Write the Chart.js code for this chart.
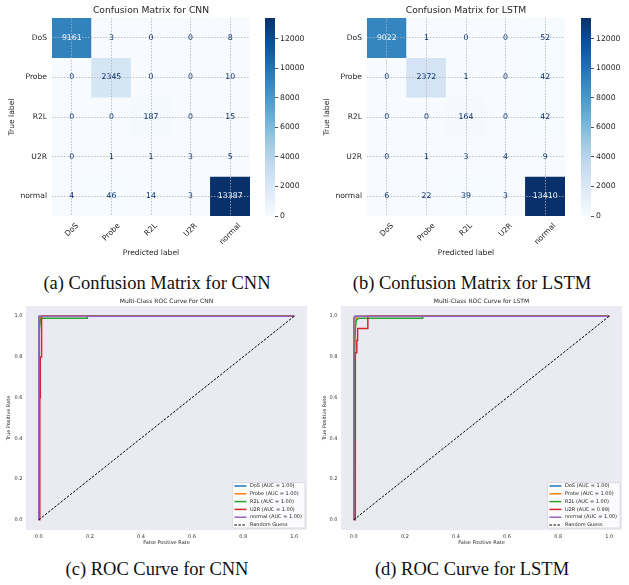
<!DOCTYPE html>
<html>
<head>
<meta charset="utf-8">
<script src="https://cdn.jsdelivr.net/npm/chart.js@4.4.1/dist/chart.umd.min.js"></script>
<style>
	html, body { margin: 0; padding: 0; background: #fff; overflow: hidden; }
	#page { position: relative; width: 629px; height: 585px; }
	canvas { position: absolute; }
	.caption {
		position: absolute; width: 320px; text-align: center;
		font-family: "Liberation Serif", "Times New Roman", serif;
		font-size: 18.5px; line-height: 20px; color: #111; white-space: nowrap;
	}
</style>
</head>
<body>
<div id="page">
	<canvas id="cm-cnn" width="262" height="262" style="left:0;top:0"></canvas>
	<canvas id="cb-cnn" width="48" height="262" style="left:262px;top:0"></canvas>
	<canvas id="cm-lstm" width="262" height="262" style="left:315px;top:0"></canvas>
	<canvas id="cb-lstm" width="48" height="262" style="left:578px;top:0"></canvas>
	<canvas id="roc-cnn" width="310" height="253" style="left:0;top:295px"></canvas>
	<canvas id="roc-lstm" width="310" height="253" style="left:315px;top:295px"></canvas>
	<div class="caption" style="left:-3px;top:273px">(a) Confusion Matrix for CNN</div>
	<div class="caption" style="left:312px;top:273px">(b) Confusion Matrix for LSTM</div>
	<div class="caption" style="left:-3px;top:559px">(c) ROC Curve for CNN</div>
	<div class="caption" style="left:312px;top:559px">(d) ROC Curve for LSTM</div>
</div>
<script>
	'use strict';

	// Class names, used for both axes of the matrices and the ROC legends.
	const classes = ['DoS', 'Probe', 'R2L', 'U2R', 'normal'];

	// Confusion matrices (rows = true label, columns = predicted label).
	const cnnMatrix = [
		[9161, 3, 0, 0, 8],
		[0, 2345, 0, 0, 10],
		[0, 0, 187, 0, 15],
		[0, 1, 1, 3, 5],
		[4, 46, 14, 3, 13387]
	];
	const lstmMatrix = [
		[9022, 1, 0, 0, 52],
		[0, 2372, 1, 0, 42],
		[0, 0, 164, 0, 42],
		[0, 1, 3, 4, 9],
		[6, 22, 39, 3, 13410]
	];
	const colorbarTicks = [0, 2000, 4000, 6000, 8000, 10000, 12000];

	// ROC curves, [fpr, tpr] pairs.
	const cnnDosRoc = [[0, 0], [0, 0.985], [0.001, 0.998], [0.003, 1], [1, 1]];
	const cnnProbeRoc = [[0, 0], [0.001, 0.96], [0.004, 0.99], [0.008, 1], [1, 1]];
	const cnnR2lRoc = [[0, 0], [0.002, 0.93], [0.006, 0.985], [0.012, 0.99], [0.19, 0.99], [0.19, 1], [1, 1]];
	const cnnU2rRoc = [[0, 0], [0.004, 0], [0.004, 0.6], [0.006, 0.6], [0.006, 0.8], [0.009, 0.8], [0.009, 0.9], [0.012, 0.9], [0.012, 1], [1, 1]];
	const cnnNormalRoc = [[0, 0], [0, 0.99], [0.002, 1], [1, 1]];
	const cnnAuc = [1.00, 1.00, 1.00, 1.00, 1.00];

	const lstmDosRoc = [[0, 0], [0, 0.99], [0.003, 0.995], [0.006, 1], [1, 1]];
	const lstmProbeRoc = [[0, 0], [0.002, 0.96], [0.008, 0.99], [0.02, 1], [1, 1]];
	const lstmR2lRoc = [[0, 0], [0.004, 0.83], [0.006, 0.94], [0.01, 0.98], [0.02, 0.99], [0.27, 0.99], [0.27, 1], [1, 1]];
	const lstmU2rRoc = [[0, 0], [0.006, 0], [0.006, 0.82], [0.012, 0.82], [0.012, 0.88], [0.015, 0.88], [0.015, 0.94], [0.055, 0.94], [0.055, 1], [1, 1]];
	const lstmNormalRoc = [[0, 0], [0, 0.99], [0.004, 1], [1, 1]];
	const lstmAuc = [1.00, 1.00, 1.00, 0.99, 1.00];

	const diagonal = [[0, 0], [1, 1]];
	const rocTicks = [0, 0.2, 0.4, 0.6, 0.8, 1.0];

	// Styling.
	const textColor = '#262626';
	const blueStops = ['#f7fbff', '#deebf7', '#c6dbef', '#9ecae1', '#6baed6', '#4292c6', '#2171b5', '#08519c', '#08306b'];
	const rocColors = ['#1f77b4', '#ff7f0e', '#2ca02c', '#d62728', '#9467bd'];

	Chart.defaults.font.family = "'DejaVu Sans', sans-serif";
	Chart.defaults.color = textColor;

	function hexToRgb(hex) {
		const n = parseInt(hex.slice(1), 16);
		return [(n >> 16) & 255, (n >> 8) & 255, n & 255];
	}

	/**
	 * Matplotlib "Blues" colormap, t in [0, 1].
	 */
	function blues(t) {
		t = Math.max(0, Math.min(1, t));
		const pos = t * (blueStops.length - 1);
		const i = Math.min(Math.floor(pos), blueStops.length - 2);
		const f = pos - i;
		const a = hexToRgb(blueStops[i]);
		const b = hexToRgb(blueStops[i + 1]);
		const c = a.map((v, k) => Math.round(v + (b[k] - v) * f));
		return 'rgb(' + c.join(',') + ')';
	}

	// Numbers inside the matrix cells.
	const cellText = {
		id: 'cellText',
		afterDraw(chart, args, opts) {
			const ctx = chart.ctx;
			const x = chart.scales.x;
			const y = chart.scales.y;
			ctx.save();
			ctx.font = opts.size + "px 'DejaVu Sans'";
			ctx.textAlign = 'center';
			ctx.textBaseline = 'middle';
			opts.counts.forEach(function(row, r) {
				row.forEach(function(v, c) {
					ctx.fillStyle = v >= opts.thresh ? blueStops[0] : blueStops[blueStops.length - 1];
					ctx.fillText(String(v), x.getPixelForTick(c), y.getPixelForValue(r));
				});
			});
			ctx.restore();
		}
	};

	// Rotated x tick labels, centred under the tick like matplotlib does.
	const slantLabels = {
		id: 'slantLabels',
		afterDraw(chart, args, opts) {
			const ctx = chart.ctx;
			const x = chart.scales.x;
			ctx.save();
			ctx.font = opts.size + "px 'DejaVu Sans'";
			ctx.fillStyle = textColor;
			ctx.textAlign = 'center';
			ctx.textBaseline = 'middle';
			classes.forEach(function(label, i) {
				const w = ctx.measureText(label).width;
				const h = opts.size * 1.2;
				const cx = x.getPixelForTick(i);
				const cy = x.top + opts.pad + (w + h) * Math.SQRT1_2 / 2;
				ctx.save();
				ctx.translate(cx, cy);
				ctx.rotate(-Math.PI / 4);
				ctx.fillText(label, 0, 0);
				ctx.restore();
			});
			ctx.restore();
		}
	};

	// Grey plot background for the ROC charts.
	const plotBackground = {
		id: 'plotBackground',
		beforeDraw(chart, args, opts) {
			const a = chart.chartArea;
			chart.ctx.save();
			chart.ctx.fillStyle = opts.color;
			chart.ctx.fillRect(a.left, a.top, a.right - a.left, a.bottom - a.top);
			chart.ctx.restore();
		}
	};

	// Legend box in the lower right corner of the plot area.
	const cornerLegend = {
		id: 'cornerLegend',
		afterDraw(chart, args, opts) {
			const ctx = chart.ctx;
			const a = chart.chartArea;
			const sets = chart.data.datasets;
			ctx.save();
			ctx.font = opts.size + "px 'DejaVu Sans'";
			let maxW = 0;
			sets.forEach(function(ds) {
				maxW = Math.max(maxW, ctx.measureText(ds.label).width);
			});
			const boxW = 17.5 + maxW + 3;
			const boxH = sets.length * opts.rowHeight - 1.4;
			const left = a.right - 2 - boxW;
			const top = a.bottom - 2 - boxH;
			ctx.beginPath();
			ctx.roundRect(left, top, boxW, boxH, 1.5);
			ctx.fillStyle = 'rgba(255,255,255,0.8)';
			ctx.fill();
			ctx.strokeStyle = '#cccccc';
			ctx.lineWidth = 0.6;
			ctx.stroke();
			ctx.textBaseline = 'middle';
			ctx.textAlign = 'left';
			sets.forEach(function(ds, i) {
				const cy = top + 3.4 + i * opts.rowHeight;
				ctx.beginPath();
				ctx.setLineDash(ds.borderDash || []);
				ctx.moveTo(left + 2, cy);
				ctx.lineTo(left + 14, cy);
				ctx.strokeStyle = ds.borderColor;
				ctx.lineWidth = ds.borderWidth;
				ctx.stroke();
				ctx.setLineDash([]);
				ctx.fillStyle = textColor;
				ctx.fillText(ds.label, left + 17.5, cy);
			});
			ctx.restore();
		}
	};

	function makeMatrix(id, title, counts) {
		const flat = counts.flat();
		const max = Math.max.apply(null, flat);
		const min = Math.min.apply(null, flat);

		// One floating-bar dataset per row; each bar is one cell.
		const datasets = counts.map(function(row, r) {
			return {
				data: row.map(function() { return [r - 0.5, r + 0.5]; }),
				backgroundColor: row.map(function(v) { return blues((v - min) / (max - min)); }),
				borderWidth: 0,
				barPercentage: 1,
				categoryPercentage: 1,
				grouped: false
			};
		});

		const gridOpts = { offset: false, z: 1, color: '#b3b3b3', lineWidth: 0.8, drawTicks: false };
		const borderOpts = { display: false, dash: [1.5, 1.5] };

		return new Chart(document.getElementById(id), {
			type: 'bar',
			data: { labels: classes, datasets: datasets },
			plugins: [cellText, slantLabels],
			options: {
				responsive: false,
				animation: false,
				layout: { padding: { right: 12 } },
				plugins: {
					legend: { display: false },
					tooltip: { enabled: false },
					title: {
						display: true,
						text: title,
						fullSize: false,
						color: textColor,
						font: { size: 9.2, weight: 'normal' },
						padding: { top: 5, bottom: 1.96 }
					},
					cellText: { counts: counts, thresh: (max + min) / 2, size: 7.8 },
					slantLabels: { size: 7.6, pad: 5.4 }
				},
				scales: {
					x: {
						type: 'category',
						offset: true,
						grid: gridOpts,
						border: borderOpts,
						ticks: { display: false },
						title: { display: true, text: 'Predicted label', color: textColor, font: { size: 7.6 }, padding: { top: 0, bottom: 4 } },
						afterFit: function(s) { s.height = 46; }
					},
					y: {
						type: 'linear',
						min: -0.5,
						max: 4.5,
						reverse: true,
						afterBuildTicks: function(s) {
							s.ticks = classes.map(function(_, i) { return { value: i }; });
						},
						ticks: { callback: function(v) { return classes[v]; }, font: { size: 7.6 }, color: textColor, padding: 5 },
						grid: gridOpts,
						border: borderOpts,
						title: { display: true, text: 'True label', color: textColor, font: { size: 7.6 }, padding: { top: 7, bottom: 0 } },
						afterFit: function(s) { s.width = 52; }
					}
				}
			}
		});
	}

	function makeColorbar(id, counts) {
		const max = Math.max.apply(null, counts.flat());
		return new Chart(document.getElementById(id), {
			type: 'bar',
			data: {
				labels: [''],
				datasets: [{
					data: [[0, max]],
					backgroundColor: function(c) {
						const area = c.chart.chartArea;
						if (!area) return blueStops[blueStops.length - 1];
						const g = c.chart.ctx.createLinearGradient(0, area.bottom, 0, area.top);
						blueStops.forEach(function(col, i) { g.addColorStop(i / (blueStops.length - 1), col); });
						return g;
					},
					borderWidth: 0,
					barPercentage: 1,
					categoryPercentage: 1
				}]
			},
			options: {
				responsive: false,
				animation: false,
				layout: { padding: { left: 3, top: 18, bottom: 46 } },
				plugins: { legend: { display: false }, tooltip: { enabled: false } },
				scales: {
					x: { display: false },
					y: {
						position: 'right',
						min: 0,
						max: max,
						afterBuildTicks: function(s) {
							s.ticks = colorbarTicks.map(function(v) { return { value: v }; });
						},
						ticks: { font: { size: 7.7 }, color: textColor, padding: 2, callback: function(v) { return String(v); } },
						grid: { drawOnChartArea: false, drawTicks: true, tickLength: 3, tickColor: textColor, tickWidth: 0.8 },
						border: { display: false },
						afterFit: function(s) { s.width = 35; }
					}
				}
			}
		});
	}

	function makeRoc(id, title, curves, aucs, yTitlePad) {
		const datasets = curves.map(function(pts, i) {
			return {
				label: classes[i] + ' (AUC = ' + aucs[i].toFixed(2) + ')',
				data: pts.map(function(p) { return { x: p[0], y: p[1] }; }),
				borderColor: rocColors[i],
				borderWidth: 1.5,
				showLine: true,
				pointRadius: 0,
				tension: 0,
				order: 10 - i
			};
		});
		datasets.push({
			label: 'Random Guess',
			data: diagonal.map(function(p) { return { x: p[0], y: p[1] }; }),
			borderColor: '#000000',
			borderWidth: 1,
			borderDash: [2.5, 1.5],
			showLine: true,
			pointRadius: 0,
			order: 0
		});

		const tickFont = { size: 5 };
		const axis = function(titleText, fit, titlePad) {
			return {
				type: 'linear',
				min: -0.05,
				max: 1.05,
				afterBuildTicks: function(s) {
					s.ticks = rocTicks.map(function(v) { return { value: v }; });
				},
				ticks: { font: tickFont, color: '#333333', padding: 3.5, callback: function(v) { return v.toFixed(1); } },
				grid: { display: false, drawTicks: false },
				border: { display: false },
				title: { display: true, text: titleText, color: textColor, font: tickFont, padding: titlePad },
				afterFit: fit
			};
		};

		return new Chart(document.getElementById(id), {
			type: 'scatter',
			data: { datasets: datasets },
			plugins: [plotBackground, cornerLegend],
			options: {
				responsive: false,
				animation: false,
				layout: { padding: { right: 3 } },
				plugins: {
					legend: { display: false },
					tooltip: { enabled: false },
					title: {
						display: true,
						text: title,
						fullSize: false,
						color: textColor,
						font: { size: 6, weight: 'normal' },
						padding: { top: 2.4, bottom: 1.4 }
					},
					plotBackground: { color: '#eaeaf2' },
					cornerLegend: { size: 5, rowHeight: 7.8 }
				},
				scales: {
					x: axis('False Positive Rate', function(s) { s.height = 18; }, { top: 0, bottom: 2 }),
					y: axis('True Positive Rate', function(s) { s.width = 26; }, { top: yTitlePad, bottom: 0 })
				}
			}
		});
	}

	makeMatrix('cm-cnn', 'Confusion Matrix for CNN', cnnMatrix);
	makeColorbar('cb-cnn', cnnMatrix);
	makeMatrix('cm-lstm', 'Confusion Matrix for LSTM', lstmMatrix);
	makeColorbar('cb-lstm', lstmMatrix);
	makeRoc('roc-cnn', 'Multi-Class ROC Curve For CNN',
		[cnnDosRoc, cnnProbeRoc, cnnR2lRoc, cnnU2rRoc, cnnNormalRoc], cnnAuc, 6);
	makeRoc('roc-lstm', 'Multi-Class ROC Curve for LSTM',
		[lstmDosRoc, lstmProbeRoc, lstmR2lRoc, lstmU2rRoc, lstmNormalRoc], lstmAuc, 7);
</script>
</body>
</html>
